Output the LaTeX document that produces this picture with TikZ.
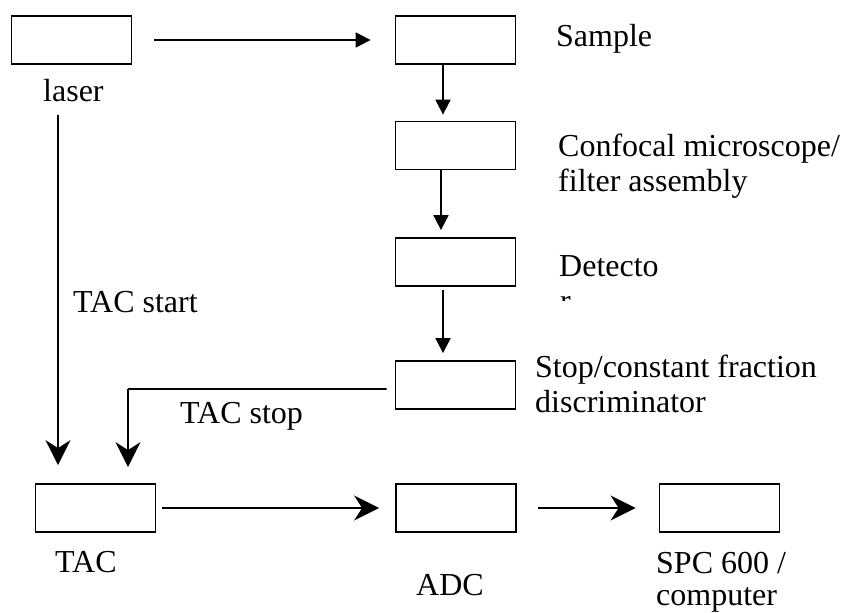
\documentclass[tikz,border=0pt]{standalone}
\usepackage{fontspec}
\setmainfont{Liberation Serif}
\usetikzlibrary{arrows.meta}
\begin{document}
\begin{tikzpicture}[x=1bp,y=-1bp,
  box/.style={draw,line width=1.8bp,minimum width=120bp,minimum height=48bp,inner sep=0pt},
  lbl/.style={anchor=base west,inner sep=0pt,font=\fontsize{32bp}{35bp}\selectfont},
  conn/.style={line width=1.8bp},
  tri/.style={conn,-{Triangle[length=15bp,width=15bp]}},
  stl/.style={conn,-{Stealth[length=25bp,width=25bp,inset=8bp]}}]
\useasboundingbox (0,0) rectangle (843,613);
% boxes
\node[box] (laser) at (71.5,40) {};
\node[box] (sample) at (455.5,40) {};
\node[box] (confocal) at (455.5,145.5) {};
\node[box] (detector) at (455.5,262) {};
\node[box] (stop) at (455.5,385) {};
\node[box] (tac) at (95.5,508) {};
\node[box] (adc) at (456,508) {};
\node[box] (spc) at (719.5,508) {};
% labels
\node[lbl] (tlaser) at (43,102) {laser};
\node[lbl] (tsample) at (556,47) {Sample};
\node[lbl] (tconf1) at (558,157) {Confocal microscope/};
\node[lbl] (tconf2) at (558,192) {filter assembly};
\node[lbl] (tdet) at (559,276) {Detecto};
\begin{scope}
  \clip (550,290) rectangle (600,300.5);
  \node[lbl] (tdetr) at (560,311.5) {r};
\end{scope}
\node[lbl] (tstop1) at (535,377) {Stop/constant fraction};
\node[lbl] (tstop2) at (535,412) {discriminator};
\node[lbl] (tstart) at (73,312) {TAC start};
\node[lbl] (tstoplbl) at (180,423) {TAC stop};
\node[lbl] (ttac) at (55,572) {TAC};
\node[lbl] (tadc) at (416,595) {ADC};
\node[lbl] (tspc1) at (656,573) {SPC 600 /};
\node[lbl] (tspc2) at (656,605.5) {computer};
% connectors
\draw[tri] ([xshift=22bp]laser.east) -- ([xshift=-24bp]sample.west);
\draw[tri] ([xshift=-12.5bp]sample.south) -- ([xshift=-12.5bp,yshift=6bp]confocal.north);
\draw[tri] ([xshift=-14.5bp]confocal.south) -- ([xshift=-14.5bp,yshift=7bp]detector.north);
\draw[tri] ([xshift=-12.5bp,yshift=-3bp]detector.south) -- ([xshift=-12.5bp,yshift=7bp]stop.north);
\coordinate (lstart) at ([xshift=-13.5bp,yshift=-50bp]laser.south);
\draw[stl] (lstart) -- ([xshift=-37.5bp,yshift=18bp]tac.north);
\coordinate (scorner) at ([xshift=32.5bp]tac.north |- 0,389);
\draw[conn] ([xshift=-8bp,yshift=-4bp]stop.west) -- (scorner);
\draw[stl] (scorner) -- ([xshift=32.5bp,yshift=16bp]tac.north);
\draw[stl] ([xshift=6bp]tac.east) -- ([xshift=-16bp]adc.west);
\draw[stl] ([xshift=21bp]adc.east) -- ([xshift=-23bp]spc.west);
\end{tikzpicture}
\end{document}
